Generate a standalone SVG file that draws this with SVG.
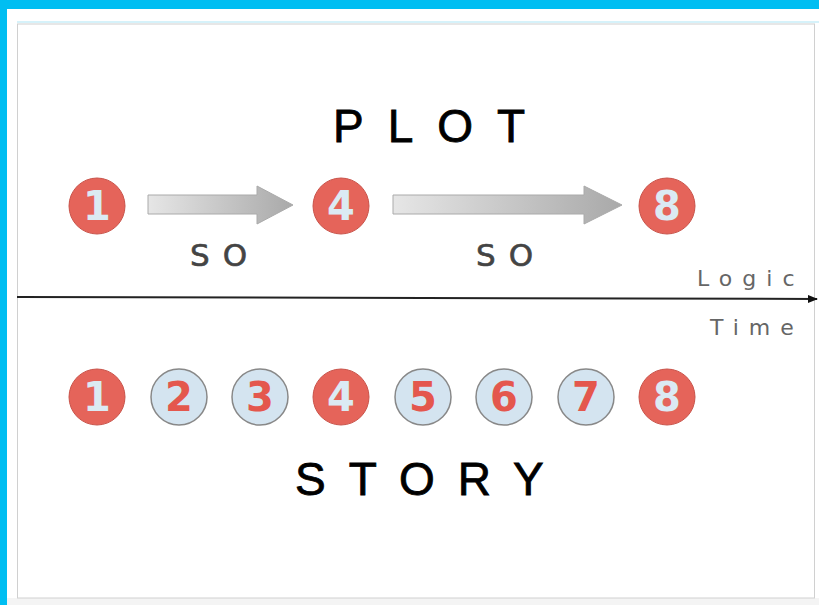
<svg xmlns="http://www.w3.org/2000/svg" width="819" height="605" viewBox="0 0 819 605">
<defs>
<linearGradient id="ag" x1="0" y1="0" x2="1" y2="0">
<stop offset="0" stop-color="#e6e6e6"/>
<stop offset="1" stop-color="#a9a9a9"/>
</linearGradient>
<marker id="ah" markerWidth="10" markerHeight="8" refX="9" refY="4" orient="auto" markerUnits="userSpaceOnUse">
<path d="M0,0 L10,4 L0,8 Z" fill="#111"/>
</marker>
<style>
.red circle{fill:#e5645a;stroke:#c9544b;stroke-width:1}
.red text{fill:#dbeaf3}
.blue circle{fill:#d4e4f0;stroke:#888;stroke-width:1.5}
.blue text{fill:#e4574d}
.num{font-family:"DejaVu Sans",sans-serif;font-weight:bold;font-size:40px;text-anchor:middle}
.title{font-family:"Liberation Sans",sans-serif;font-size:46px;fill:#000;stroke:#000;stroke-width:0.8}
.so{font-family:"DejaVu Sans",sans-serif;font-size:31px;fill:#444;stroke:#444;stroke-width:0.6;letter-spacing:13px}
.axis{font-family:"DejaVu Sans",sans-serif;font-size:22px;fill:#666;letter-spacing:10px}
.arr{fill:url(#ag);stroke:#aaa;stroke-width:1}
</style>
</defs>
<rect x="0" y="0" width="819" height="605" fill="#00bef2"/>
<rect x="7" y="9" width="812" height="596" fill="#ffffff"/>
<rect x="7" y="598" width="812" height="7" fill="#f4f4f4"/>
<line x1="17" y1="22" x2="819" y2="22" stroke="#c8eef8" stroke-width="1.5"/>
<rect x="17.5" y="24" width="797" height="574" fill="none" stroke="#d0d0d0" stroke-width="1"/>
<text class="title" x="333" y="142" letter-spacing="24">PLOT</text>
<text class="title" x="295" y="495" letter-spacing="23">STORY</text>
<g id="connectors">
<path class="arr" d="M148,195 H257 V186 L293,205 L257,224 V214 H148 Z"/>
<path class="arr" d="M393,195 H584 V186 L622,205 L584,224 V214 H393 Z"/>
<line x1="17" y1="297" x2="817" y2="299" stroke="#222" stroke-width="2" marker-end="url(#ah)"/>
</g>
<text class="so" x="190" y="266">SO</text>
<text class="so" x="476" y="266">SO</text>
<text class="axis" x="697" y="286">Logic</text>
<text class="axis" x="710" y="335">Time</text>
<g id="p1" class="red"><circle cx="97" cy="206" r="28"/><text class="num" x="97" y="220">1</text></g>
<g id="p4" class="red"><circle cx="341" cy="206" r="28"/><text class="num" x="341" y="220">4</text></g>
<g id="p8" class="red"><circle cx="667" cy="206" r="28"/><text class="num" x="667" y="220">8</text></g>
<g id="s1" class="red"><circle cx="97" cy="397" r="28"/><text class="num" x="97" y="411">1</text></g>
<g id="s2" class="blue"><circle cx="179" cy="397" r="28"/><text class="num" x="179" y="411">2</text></g>
<g id="s3" class="blue"><circle cx="260" cy="397" r="28"/><text class="num" x="260" y="411">3</text></g>
<g id="s4" class="red"><circle cx="341" cy="397" r="28"/><text class="num" x="341" y="411">4</text></g>
<g id="s5" class="blue"><circle cx="423" cy="397" r="28"/><text class="num" x="423" y="411">5</text></g>
<g id="s6" class="blue"><circle cx="504" cy="397" r="28"/><text class="num" x="504" y="411">6</text></g>
<g id="s7" class="blue"><circle cx="586" cy="397" r="28"/><text class="num" x="586" y="411">7</text></g>
<g id="s8" class="red"><circle cx="667" cy="397" r="28"/><text class="num" x="667" y="411">8</text></g>
</svg>
